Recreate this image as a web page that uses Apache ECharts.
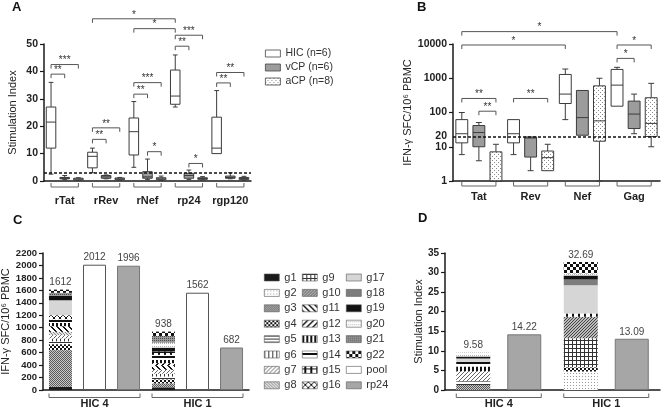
<!DOCTYPE html>
<html><head><meta charset="utf-8">
<script src="https://cdn.jsdelivr.net/npm/echarts@6/dist/echarts.min.js"></script>
<style>html,body{margin:0;padding:0;background:#fff}#c{width:661px;height:410px}</style>
</head><body><div id="c"></div>
<script>
// ---------- DATA ----------
// Panel A: Stimulation index boxplots [min, Q1, median, Q3, max]
const catsA = ['rTat', 'rRev', 'rNef', 'rp24', 'rgp120'];
const groupNames = ['HIC (n=6)', 'vCP (n=6)', 'aCP (n=8)'];
const hicA = [[2.5,12,21.5,27,36],[3,4.8,9,10.5,12],[5,9.5,18,23,29],[27,28,31,40.5,46],[10,10,12,23.3,33]];
const vcpA = [[0.5,0.8,1,1.3,2],[0.8,1,1.5,2,2.2],[0.5,1,1.5,3.4,8],[0.5,1,2,2.8,4],[0.8,1,1.3,1.8,3]];
const acpA = [[0.2,0.4,0.7,1,1.2],[0.3,0.5,0.8,1.1,1.3],[0.2,0.5,0.8,1.2,1.8],[0.3,0.6,0.9,1.2,1.6],[0.3,0.5,0.9,1.3,1.7]];
const thresholdA = 3;
// significance: [cat1, group1, cat2, group2, height, stars]
const sigA = [[0,0,0,1,39,2],[0,0,0,2,42.5,3],[1,0,1,1,15.2,2],[1,0,1,2,19.4,2],[2,0,2,1,31.7,2],[2,0,2,2,35.9,3],
  [2,1,2,2,10.7,1],[3,0,3,1,49.2,2],[3,0,3,2,53.2,3],[3,1,3,2,6.4,1],[4,0,4,1,35.8,2],[4,0,4,2,39.6,2],
  [1,0,3,0,59.2,1],[2,0,3,0,55.6,1]];

// Panel B: IFN-g SFC/10^6 PBMC (log)
const catsB = ['Tat', 'Rev', 'Nef', 'Gag'];
const hicB = [[5.9,13,24,62,100],[5.9,13,24,62,62],[62,183,345,1290,1860],[153,153,630,1810,2085]];
const vcpB = [[3.9,10,26,41.6,51],[2,5,18,19.4,19.4],[21.7,21.7,71,440,440],[24,34,90,215,345]];
const acpB = [[1,1,1,7.1,11.8],[2,2,4.8,7.5,11.8],[1,14.5,57,600,1000],[10,20,48,270,710]];
const thresholdB = 20;
const sigB = [[0,0,0,2,257,2],[0,1,0,2,109,2],[1,0,1,2,257,2],[0,0,2,0,9350,1],[0,0,3,0,23000,1],[3,0,3,1,3800,1],[3,0,3,2,9350,1]];

// Panels C & D
const catsCD = ['HIC 4', 'HIC 1'];
const pepNames = ['g1','g2','g3','g4','g5','g6','g7','g8','g9','g10','g11','g12','g13','g14','g15','g16','g17','g18','g19','g20','g21','g22'];
const pepSfcHIC4 = [50,0,590,96,45,46,55,52,0,0,91,0,53,60,0,63,240,0,70,0,50,51];
const pepSfcHIC1 = [43,0,64,64,45,45,64,0,0,0,64,42,53,80,53,0,0,0,64,80,107,70];
const poolSfc = [2012, 1562];
const rp24Sfc = [1996, 682];
const pepSiHIC4 = [0,0,1.25,0,1.0,0,2.55,0,0,0,0,0,1.18,1.2,0,0,0.85,0,0.55,1.0,0,0];
const pepSiHIC1 = [0,4.7,0,1.1,0,0.6,0,0,6.8,5.5,0,0,0,0,0.85,0,7.2,1.5,1.0,0.55,0,2.89];
const rp24Si = [14.22, 13.09];

// ---------- STYLE HELPERS ----------
function pat(w, h, bg, pts, col) {
  const c = document.createElement('canvas'); c.width = w; c.height = h;
  const g = c.getContext('2d');
  g.fillStyle = bg; g.fillRect(0, 0, w, h);
  g.fillStyle = col;
  pts.forEach(p => g.fillRect(p[0], p[1], p[2] || 1, p[3] || 1));
  return { image: c, repeat: 'repeat' };
}
const dotsACP = pat(4, 4, '#fff', [[0,0],[2,2]], '#8a8a8a');
const pepFill = [
  '#1b1b1b',
  pat(3, 3, '#fff', [[0,1]], '#9a9a9a'),
  pat(2, 2, '#c8c8c8', [[0,0],[1,1]], '#5a5a5a'),
  pat(4, 4, '#fff', [[0,0,2,2],[2,2,2,2]], '#111'),
  pat(1, 3, '#fff', [[0,0]], '#333'),
  pat(4, 1, '#fff', [[0,0]], '#333'),
  pat(4, 4, '#fff', [[3,0],[2,1],[1,2],[0,3]], '#666'),
  pat(3, 3, '#e4e4e4', [[0,0],[1,1],[2,2]], '#888'),
  pat(4, 4, '#fff', [[0,0,4,1],[0,0,1,4]], '#333'),
  pat(3, 3, '#bbb', [[2,0],[1,1],[0,2]], '#444'),
  pat(6, 6, '#fff', [[0,0,2,1],[1,1,2,1],[2,2,2,1],[3,3,2,1],[4,4,2,1],[5,5,1,1],[0,5,1,1]], '#111'),
  pat(6, 6, '#fff', [[4,0,2,1],[3,1,2,1],[2,2,2,1],[1,3,2,1],[0,4,2,1],[0,5,1,1],[5,5,1,1]], '#111'),
  pat(4, 1, '#fff', [[0,0,2,1]], '#111'),
  pat(1, 6, '#fff', [[0,2,1,2]], '#111'),
  pat(6, 5, '#fff', [[2,0,2,5],[0,2,6,1]], '#111'),
  pat(6, 6, '#fff', [[0,0],[1,1],[2,2],[3,3],[4,4],[5,5],[5,0],[4,1],[3,2],[2,3],[1,4],[0,5]], '#111'),
  '#d6d6d6',
  '#7d7d7d',
  '#121212',
  pat(4, 3, '#fff', [[0,1],[2,1]], '#b0b0b0'),
  pat(2, 2, '#9a9a9a', [[0,0]], '#4a4a4a'),
  pat(6, 6, '#fff', [[0,0,3,3],[3,3,3,3]], '#111')
];
const poolFill = '#ffffff';
const rp24Fill = '#a6a6a6';
const groupFill = ['#ffffff', '#9c9c9c', dotsACP];
const STROKE = '#3c3c3c';
const BOX_OFF = [-0.33, 0, 0.33];
const BOX_W = 0.23;
const FONT = 'Liberation Sans, Arial, sans-serif';

function boxRenderer(k) {
  return function (params, api) {
    const c = api.value(0);
    const band = api.size([1, 1])[0];
    const x = api.coord([c, api.value(3)])[0] + BOX_OFF[k] * band;
    const w = BOX_W * band;
    const y = [1,2,3,4,5].map(i => api.coord([c, api.value(i)])[1]);
    const st = { stroke: STROKE, lineWidth: 1, fill: null };
    const cap = w * 0.5;
    const ch = [];
    if (Math.abs(y[0] - y[1]) > 0.5) {
      ch.push({ type: 'line', shape: { x1: x, y1: y[1], x2: x, y2: y[0] }, style: st });
      ch.push({ type: 'line', shape: { x1: x - cap / 2, y1: y[0], x2: x + cap / 2, y2: y[0] }, style: st });
    }
    if (Math.abs(y[4] - y[3]) > 0.5) {
      ch.push({ type: 'line', shape: { x1: x, y1: y[3], x2: x, y2: y[4] }, style: st });
      ch.push({ type: 'line', shape: { x1: x - cap / 2, y1: y[4], x2: x + cap / 2, y2: y[4] }, style: st });
    }
    ch.push({ type: 'rect', shape: { x: x - w / 2, y: y[3], width: w, height: y[1] - y[3] },
      style: { fill: groupFill[k], stroke: STROKE, lineWidth: 1 } });
    ch.push({ type: 'line', shape: { x1: x - w / 2, y1: y[2], x2: x + w / 2, y2: y[2] }, style: st });
    return { type: 'group', children: ch };
  };
}
function sigRenderer(params, api) {
  const band = api.size([1, 1])[0];
  const yv = api.value(4);
  const p1 = api.coord([api.value(0), yv]);
  const x1 = p1[0] + BOX_OFF[api.value(1)] * band;
  const x2 = api.coord([api.value(2), yv])[0] + BOX_OFF[api.value(3)] * band;
  const y = p1[1];
  return { type: 'group', children: [
    { type: 'polyline', shape: { points: [[x1, y + 4], [x1, y], [x2, y], [x2, y + 4]] },
      style: { stroke: '#555', lineWidth: 1, fill: null } },
    { type: 'text', style: { text: '*'.repeat(api.value(5)), x: (x1 + x2) / 2, y: y + 1,
      textAlign: 'center', textVerticalAlign: 'bottom', fontSize: 10, fill: '#333', fontFamily: FONT } }
  ] };
}
function groupBracket(halfFn, drop) {
  return function (params, api) {
    const cs = params.coordSys;
    const bottom = cs.y + cs.height;
    const band = api.size([1, 1])[0];
    const cx = api.coord([api.value(0), api.value(1)])[0];
    const h = halfFn(band);
    const y = bottom + drop;
    return { type: 'polyline', shape: { points: [[cx - h, y - 4], [cx - h, y], [cx + h, y], [cx + h, y - 4]] },
      style: { stroke: '#666', lineWidth: 1, fill: null } };
  };
}

function boxSeries(data, k, axis, mark) {
  const s = {
    name: groupNames[k], type: 'custom', xAxisIndex: axis, yAxisIndex: axis, clip: false,
    itemStyle: { color: groupFill[k] },
    encode: { x: 0, y: [1, 2, 3, 4, 5] },
    data: data.map((d, i) => [i].concat(d)),
    renderItem: boxRenderer(k), z: 3
  };
  if (mark) s.markLine = mark;
  return s;
}

const series = [];
// Panel A
series.push(boxSeries(hicA, 0, 0));
series.push(boxSeries(vcpA, 1, 0, { silent: true, symbol: ['none', 'none'], animation: false,
  data: [{ yAxis: thresholdA }], lineStyle: { color: '#111', type: [3, 2], width: 1.5 }, label: { show: false } }));
series.push(boxSeries(acpA, 2, 0));
series.push({ type: 'custom', xAxisIndex: 0, yAxisIndex: 0, clip: false, encode: { x: [0, 2], y: 4 },
  data: sigA, renderItem: sigRenderer, silent: true });
series.push({ type: 'custom', xAxisIndex: 0, yAxisIndex: 0, clip: false, encode: { x: 0, y: 1 },
  data: catsA.map((c, i) => [i, 0]), renderItem: groupBracket(b => 0.33 * b, 6), silent: true });
// Panel B
series.push(boxSeries(hicB, 0, 1));
series.push(boxSeries(vcpB, 1, 1, { silent: true, symbol: ['none', 'none'], animation: false,
  data: [{ yAxis: thresholdB }], lineStyle: { color: '#111', type: [3, 2], width: 1.5 },
  label: { show: true, position: 'start', formatter: '20', fontWeight: 'bold', fontSize: 10.5, color: '#222', distance: 6, fontFamily: FONT } }));
series.push(boxSeries(acpB, 2, 1));
series.push({ type: 'custom', xAxisIndex: 1, yAxisIndex: 1, clip: false, encode: { x: [0, 2], y: 4 },
  data: sigB, renderItem: sigRenderer, silent: true });
series.push({ type: 'custom', xAxisIndex: 1, yAxisIndex: 1, clip: false, encode: { x: 0, y: 1 },
  data: catsB.map((c, i) => [i, 1]), renderItem: groupBracket(b => 0.33 * b, 5), silent: true });

// Panel C
const C_BW = 23, C_GAP = 11;
const barLabel = { show: true, position: 'top', distance: 2, fontSize: 10, color: '#444', fontFamily: FONT };
pepNames.forEach((n, i) => {
  series.push({ name: n, type: 'bar', xAxisIndex: 2, yAxisIndex: 2, stack: 'pepC', barWidth: C_BW, barGap: '48%',
    itemStyle: { color: pepFill[i], borderWidth: 0 },
    data: [pepSfcHIC4[i], pepSfcHIC1[i]] });
});
const totC = [pepSfcHIC4.reduce((a, b) => a + b, 0), pepSfcHIC1.reduce((a, b) => a + b, 0)];
series.push({ name: '_totC', type: 'bar', xAxisIndex: 2, yAxisIndex: 2, stack: 'pepC', barWidth: C_BW, barGap: '48%',
  itemStyle: { color: 'rgba(0,0,0,0)', borderWidth: 0 }, data: [0, 0],
  label: Object.assign({}, barLabel, { formatter: p => String(Math.round(totC[p.dataIndex])) }) });
series.push({ name: 'pool', type: 'bar', xAxisIndex: 2, yAxisIndex: 2, barWidth: C_BW, barGap: '48%',
  itemStyle: { color: poolFill, borderColor: '#555', borderWidth: 1 }, data: poolSfc, label: barLabel });
series.push({ name: 'rp24', type: 'bar', xAxisIndex: 2, yAxisIndex: 2, barWidth: C_BW, barGap: '48%',
  itemStyle: { color: rp24Fill, borderColor: '#777', borderWidth: 1 }, data: rp24Sfc, label: barLabel });
series.push({ type: 'custom', xAxisIndex: 2, yAxisIndex: 2, clip: false, encode: { x: 0, y: 1 },
  data: catsCD.map((c, i) => [i, 0]), renderItem: groupBracket(() => (3 * C_BW + 2 * C_GAP) / 2, 7.5), silent: true });

// Panel D
const D_BW = 34, D_GAP = 17;
pepNames.forEach((n, i) => {
  series.push({ name: n, type: 'bar', xAxisIndex: 3, yAxisIndex: 3, stack: 'pepD', barWidth: D_BW, barGap: '50%',
    itemStyle: { color: pepFill[i], borderWidth: 0 },
    data: [pepSiHIC4[i], pepSiHIC1[i]] });
});
const totD = [pepSiHIC4.reduce((a, b) => a + b, 0), pepSiHIC1.reduce((a, b) => a + b, 0)];
series.push({ name: '_totD', type: 'bar', xAxisIndex: 3, yAxisIndex: 3, stack: 'pepD', barWidth: D_BW, barGap: '50%',
  itemStyle: { color: 'rgba(0,0,0,0)', borderWidth: 0 }, data: [0, 0],
  label: Object.assign({}, barLabel, { formatter: p => totD[p.dataIndex].toFixed(2) }) });
series.push({ name: 'rp24', type: 'bar', xAxisIndex: 3, yAxisIndex: 3, barWidth: D_BW, barGap: '50%',
  itemStyle: { color: rp24Fill, borderColor: '#777', borderWidth: 1 }, data: rp24Si,
  label: Object.assign({}, barLabel, { formatter: p => p.value.toFixed(2) }) });
series.push({ type: 'custom', xAxisIndex: 3, yAxisIndex: 3, clip: false, encode: { x: 0, y: 1 },
  data: catsCD.map((c, i) => [i, 0]), renderItem: groupBracket(() => (2 * D_BW + D_GAP) / 2, 7.5), silent: true });

// ---------- AXES ----------
const axLine = { show: true, lineStyle: { color: '#1a1a1a', width: 1.5 } };
const plainNum = v => String(Math.round(v * 100) / 100);
function yAx(gi, extra, name, gap, fs) {
  return Object.assign({
    gridIndex: gi, axisLine: axLine,
    axisTick: { show: true, length: 4, lineStyle: { color: '#1a1a1a', width: 1.2 } },
    axisLabel: { fontWeight: 'bold', color: '#222', fontSize: fs, margin: 6, fontFamily: FONT, formatter: plainNum },
    splitLine: { show: false }, minorTick: { show: false },
    name: name, nameLocation: 'middle', nameGap: gap, nameRotate: 90,
    nameTextStyle: { fontSize: 11, color: '#222', fontFamily: FONT }
  }, extra);
}
function xAx(gi, data, margin) {
  return { gridIndex: gi, type: 'category', data: data, axisLine: axLine, axisTick: { show: false },
    axisLabel: { fontWeight: 'bold', color: '#222', fontSize: 11, margin: margin, fontFamily: FONT, interval: 0 } };
}

const legendText = { fontSize: 11, color: '#333', lineHeight: 13, fontFamily: FONT };
const legendBase = { orient: 'vertical', itemWidth: 15, itemHeight: 7, itemGap: 2.4, icon: 'rect',
  selectedMode: false, textStyle: legendText, itemStyle: { borderColor: '#555', borderWidth: 0.6 }, padding: 0 };

const option = {
  animation: false,
  textStyle: { fontFamily: FONT },
  title: [
    { text: 'A', left: 12, top: 1 }, { text: 'B', left: 417, top: 1 },
    { text: 'C', left: 13, top: 214 }, { text: 'D', left: 418, top: 212 }
  ].map(t => Object.assign(t, { padding: 0, textStyle: { fontSize: 13, fontWeight: 'bold', color: '#111', fontFamily: FONT } })),
  grid: [
    { left: 44, top: 44, width: 207, height: 137, containLabel: false, outerBoundsMode: 'none' },
    { left: 453, top: 44, width: 207, height: 137, containLabel: false, outerBoundsMode: 'none' },
    { left: 43, top: 253, width: 206, height: 137, containLabel: false, outerBoundsMode: 'none' },
    { left: 445, top: 253, width: 215, height: 137, containLabel: false, outerBoundsMode: 'none' }
  ],
  xAxis: [xAx(0, catsA, 14), xAx(1, catsB, 10), xAx(2, catsCD, 8), xAx(3, catsCD, 8)],
  yAxis: [
    yAx(0, { type: 'value', min: 0, max: 50, interval: 10 }, 'Stimulation Index', 26, 10.5),
    yAx(1, { type: 'log', logBase: 10, min: 1, max: 10000 }, 'IFN-γ SFC/10⁶ PBMC', 34, 10.5),
    yAx(2, { type: 'value', min: 0, max: 2200, interval: 200 }, 'IFN-γ SFC/10⁶ PBMC', 26, 9.5),
    yAx(3, { type: 'value', min: 0, max: 35, interval: 5 }, 'Stimulation Index', 20, 10)
  ],
  legend: [
    Object.assign({}, legendBase, { left: 265, top: 47, itemGap: 1, textStyle: Object.assign({}, legendText, { fontSize: 10.5 }),
      data: groupNames.map((n, k) => ({ name: n, itemStyle: { color: groupFill[k], borderColor: '#444', borderWidth: 0.8 } })) }),
    Object.assign({}, legendBase, { left: 264, top: 271, data: pepNames.slice(0, 8) }),
    Object.assign({}, legendBase, { left: 302, top: 271, data: pepNames.slice(8, 16) }),
    Object.assign({}, legendBase, { left: 346, top: 271, data: pepNames.slice(16).concat(['pool', 'rp24']) })
  ],
  series: series
};
const chart = echarts.init(document.getElementById('c'));
chart.setOption(option);
</script></body></html>
